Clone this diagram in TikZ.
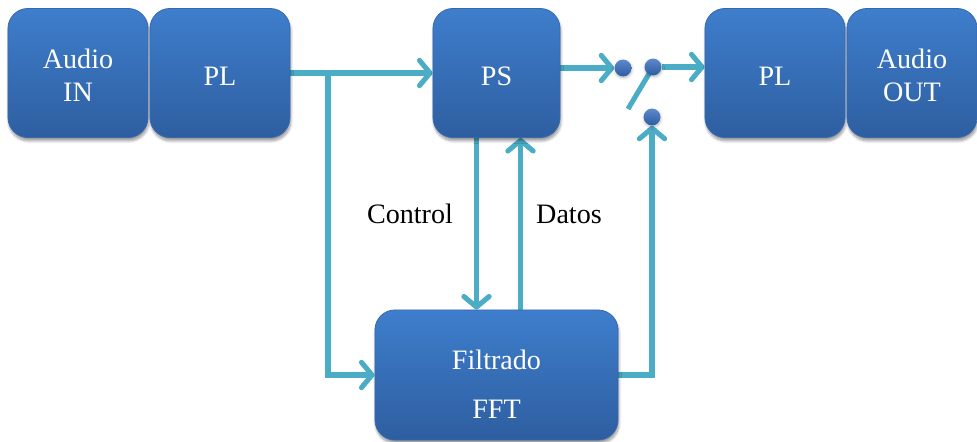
\documentclass[tikz,border=0pt]{standalone}
\usepackage{fontspec}
\setmainfont{Liberation Serif}
\usetikzlibrary{arrows.meta,shadows.blur,backgrounds}

\definecolor{boxtop}{RGB}{62,126,204}
\definecolor{boxbot}{RGB}{46,94,160}
\definecolor{boxedge}{RGB}{55,105,175}
\definecolor{lnk}{RGB}{75,172,198}
\definecolor{dotc}{RGB}{52,108,190}

\tikzset{
  blk/.style={rectangle, rounded corners=0.5cm, top color=boxtop, bottom color=boxbot,
    draw=boxedge, line width=0.6pt, text=white, align=center,
    font=\fontsize{20}{23.5}\selectfont, text depth=0pt, text height=17.7pt,
    blur shadow={shadow xshift=0.6pt, shadow yshift=-2.4pt, shadow blur steps=6, shadow opacity=40}},
  link/.style={draw=lnk, line width=3.6pt, -{Straight Barb[length=7.5pt,width=18pt,round]}},
  lever/.style={draw=lnk, line width=3.6pt},
  dot/.style={circle, inner sep=0pt, minimum size=0.42cm, top color=dotc!80!white, bottom color=dotc!85!black,
    blur shadow={shadow xshift=0.3pt, shadow yshift=-1pt, shadow blur steps=4, shadow opacity=30}},
  lbl/.style={font=\fontsize{20}{25}\selectfont}
}

\begin{document}
\begin{tikzpicture}[x=0.025cm, y=-0.025cm]
    \useasboundingbox (0,0) rectangle (977,441);

    % Bloques
    \node[blk, minimum width=3.5cm, minimum height=3.225cm, text height=40.4pt] (ain) at (78,73) {Audio\\IN};
    \node[blk, minimum width=3.5cm, minimum height=3.225cm] (pl1) at (220,73) {PL};
    \node[blk, minimum width=3.175cm, minimum height=3.225cm] (ps) at (496.5,73) {PS};
    \node[blk, minimum width=3.5cm, minimum height=3.225cm] (pl2) at (775,73) {PL};
    \node[blk, minimum width=3.25cm, minimum height=3.225cm, text height=40.4pt] (aout) at (912,73) {Audio\\OUT};
    \node[blk, minimum width=6.075cm, minimum height=3.25cm, font=\fontsize{20}{35}\selectfont,
          text height=62.4pt] (filt) at (496.5,375) {Filtrado\\FFT};

    % Conmutador
    \node[dot] (c1) at (623,68) {};
    \node[dot] (c2) at (653,67) {};
    \node[dot] (c3) at (652,117) {};
    \coordinate (lv) at (628,109);
    \coordinate (br) at (328,73);

    % Conexiones
    \begin{scope}[on background layer]
        \draw[link] (pl1.east) -- (ps.west);
        \draw[link] (br) |- (filt.west);
        \draw[link] ([xshift=-0.5cm]ps.south) -- ([xshift=-0.5cm]filt.north);
        \draw[link] ([xshift=0.6cm]filt.north) -- ([xshift=0.6cm]ps.south);
        \draw[link] (ps.east |- c1) -- (c1);
        \draw[link] (c2) -- (pl2.west |- c2);
        \draw[lever] (c2.center) -- (lv);
        \draw[link] (filt.east) -| (c3);
    \end{scope}

    % Etiquetas
    \node[lbl] (ctl) at (410,214) {Control};
    \node[lbl] (dat) at (569,214) {Datos};
\end{tikzpicture}
\end{document}
